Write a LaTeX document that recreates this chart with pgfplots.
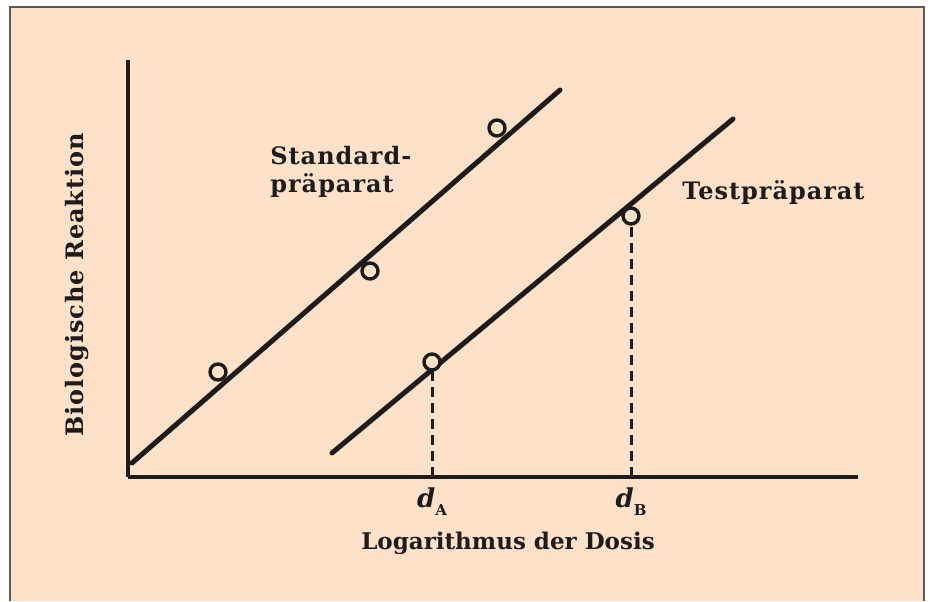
\documentclass[border=0pt]{standalone}
\usepackage{fontspec}
\setmainfont{DejaVu Serif}
\newfontfamily\widefont[LetterSpace=4]{DejaVu Serif}
\usepackage{pgfplots}
\pgfplotsset{compat=1.18}
\definecolor{peach}{RGB}{253,225,200}
\definecolor{ink}{RGB}{30,27,27}
\definecolor{framegray}{RGB}{90,90,90}
\tikzset{lbl/.style={font=\widefont\fontsize{12}{14}\selectfont\bfseries, text=ink, inner sep=0pt}}

% fitted lines and measured points (x: log dose, y: response)
\pgfplotstableread{
x y
4 14
432 387
}\stdline
\pgfplotstableread{
x y
90 105
242 206
369 349
}\stdpts
\pgfplotstableread{
x y
204 24
605 358
}\testline
\pgfplotstableread{
x y
304 115
503 261
}\testpts

\begin{document}
\begin{tikzpicture}
% page background and frame
\fill[white] (-64pt,-61pt) rectangle (401pt,238.5pt);
\fill[peach] (-59pt,-62pt) rectangle (398pt,235pt);
\draw[framegray, line width=0.75pt] (-59pt,-62pt) -- (-59pt,235pt) -- (398pt,235pt) -- (398pt,-62pt);
\useasboundingbox (-64pt,-61pt) rectangle (401pt,238.5pt);
\begin{axis}[
    at={(0,0)}, anchor=south west,
    x=0.5pt, y=0.5pt,
    xmin=0, xmax=730, ymin=0, ymax=417,
    axis lines=left,
    axis line style={line width=2pt, -, color=ink},
    xtick=\empty, ytick=\empty,
    clip=false,
    every axis plot/.append style={color=ink},
]
% dashed drops to the dose axis
\addplot[line width=1.5pt, dash pattern=on 5pt off 3pt] coordinates {(304,0) (304,107)};
\addplot[line width=1.5pt, dash pattern=on 5pt off 3pt] coordinates {(503,0) (503,253)};
\addplot[line width=2.5pt, line cap=round] table {\stdline};
\addplot[line width=2.5pt, line cap=round] table {\testline};
\addplot[only marks, mark=*, mark size=4pt, mark options={fill=peach, draw=ink, line width=1.7pt}] table {\stdpts};
\addplot[only marks, mark=*, mark size=4pt, mark options={fill=peach, draw=ink, line width=1.7pt}] table {\testpts};

\node[anchor=base west, lbl] at (axis cs:142,312) {Standard-};
\node[anchor=base west, lbl] at (axis cs:142,284) {präparat};
\node[anchor=base west, lbl] at (axis cs:554,277) {Testpräparat};
\node[anchor=base, font=\fontsize{11.5}{14}\selectfont\bfseries, text=ink] at (axis cs:380,-72) {Logarithmus der Dosis};
\node[anchor=center, rotate=90, lbl] at (axis cs:-51,192) {Biologische Reaktion};
\node[anchor=base, font=\fontsize{13}{14}\selectfont\bfseries\itshape, text=ink] at (axis cs:304,-30) {d\raisebox{-0.6ex}{\upshape\fontsize{7.5}{8}\selectfont A}};
\node[anchor=base, font=\fontsize{13}{14}\selectfont\bfseries\itshape, text=ink] at (axis cs:503,-30) {d\raisebox{-0.6ex}{\upshape\fontsize{7.5}{8}\selectfont B}};
\end{axis}
\end{tikzpicture}
\end{document}
